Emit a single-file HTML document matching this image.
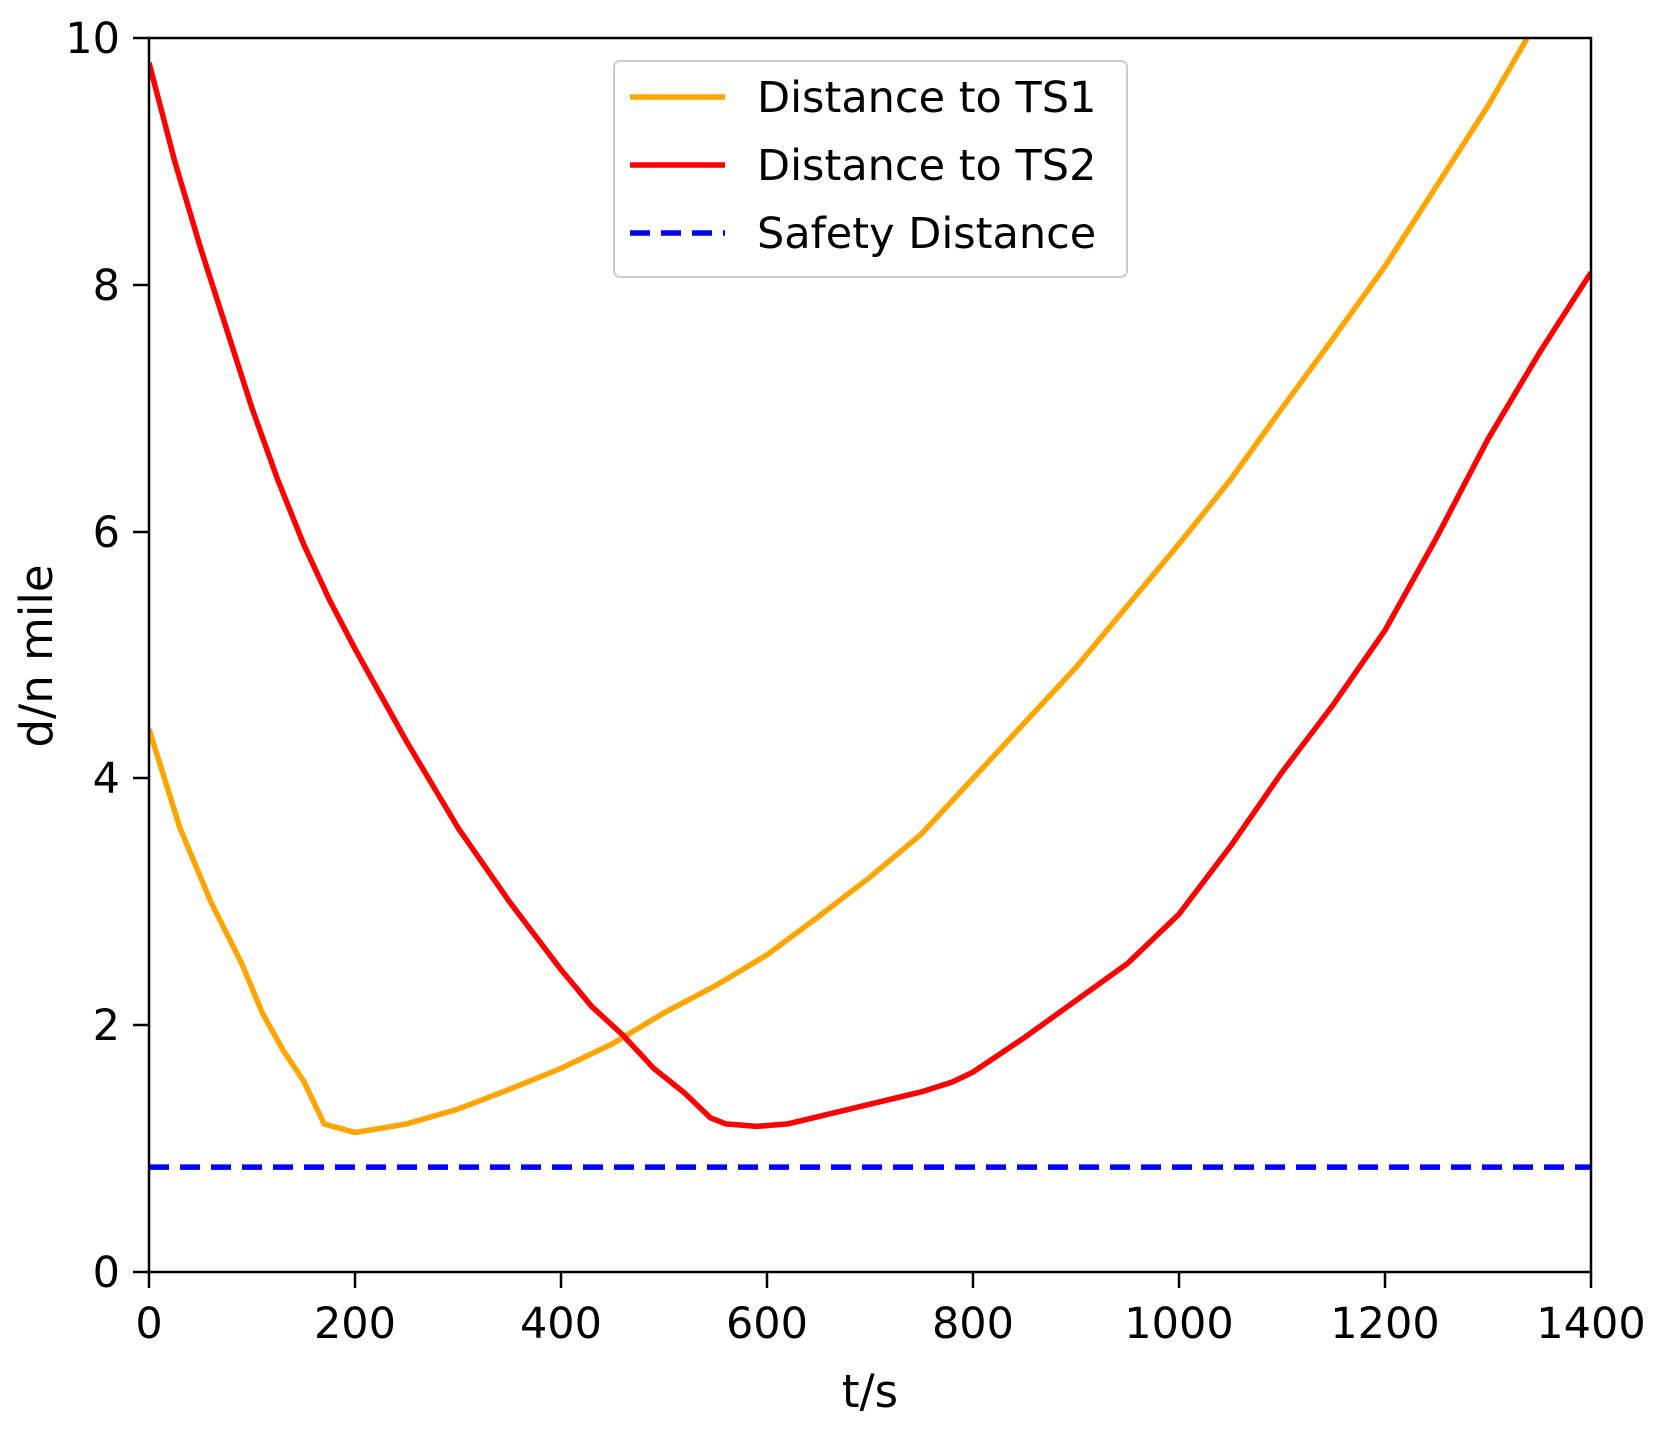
<!DOCTYPE html>
<html><head><meta charset="utf-8"><style>
body{margin:0;background:#fff}
svg text{font-family:"DejaVu Sans","Liberation Sans",sans-serif;fill:#000}
</style></head><body>
<svg width="1659" height="1432" viewBox="0 0 1659 1432" xmlns="http://www.w3.org/2000/svg">
<rect width="1659" height="1432" fill="#fff"/>
<defs><clipPath id="c"><rect x="149" y="38" width="1442" height="1234"/></clipPath></defs>
<g clip-path="url(#c)">
<g transform="translate(149,1272) scale(1.03,-123.4)" fill="none">
<line x1="0" y1="0.85" x2="1400" y2="0.85" stroke="#0000ff" stroke-width="5.5" vector-effect="non-scaling-stroke" stroke-dasharray="20 11"/>
<polyline stroke="#ffa500" stroke-width="5.5" vector-effect="non-scaling-stroke" stroke-linejoin="round" points="0,4.4 30,3.6 60,3.0 90,2.5 110,2.1 130,1.8 150,1.55 170,1.2 200,1.13 250,1.2 300,1.32 350,1.48 400,1.65 450,1.85 500,2.1 550,2.32 600,2.57 650,2.88 700,3.2 750,3.55 800,4.0 850,4.45 900,4.9 950,5.4 1000,5.9 1050,6.42 1100,7.0 1150,7.57 1200,8.15 1250,8.8 1300,9.45 1345,10.1"/>
<polyline stroke="#ff0000" stroke-width="5.5" vector-effect="non-scaling-stroke" stroke-linejoin="round" points="0,9.8 25,9.0 50,8.3 75,7.65 100,7.0 125,6.42 150,5.9 175,5.45 200,5.05 250,4.3 300,3.6 350,3.0 400,2.45 430,2.15 460,1.92 490,1.65 520,1.45 545,1.25 560,1.2 590,1.18 620,1.2 650,1.26 700,1.36 750,1.46 780,1.54 800,1.62 850,1.9 900,2.2 950,2.5 1000,2.9 1050,3.45 1100,4.05 1150,4.6 1200,5.2 1250,5.95 1300,6.75 1350,7.45 1400,8.1"/>
</g></g>
<rect x="149" y="38" width="1442" height="1234" fill="none" stroke="#000" stroke-width="2.5"/>
<g stroke="#000" stroke-width="2.5">
<line x1="149" y1="1272" x2="149" y2="1288"/><line x1="355" y1="1272" x2="355" y2="1288"/><line x1="561" y1="1272" x2="561" y2="1288"/><line x1="767" y1="1272" x2="767" y2="1288"/><line x1="973" y1="1272" x2="973" y2="1288"/><line x1="1179" y1="1272" x2="1179" y2="1288"/><line x1="1385" y1="1272" x2="1385" y2="1288"/><line x1="1591" y1="1272" x2="1591" y2="1288"/>
<line x1="133" y1="1272" x2="149" y2="1272"/><line x1="133" y1="1025" x2="149" y2="1025"/><line x1="133" y1="778" x2="149" y2="778"/><line x1="133" y1="532" x2="149" y2="532"/><line x1="133" y1="285" x2="149" y2="285"/><line x1="133" y1="38" x2="149" y2="38"/>
</g>
<g font-size="43" text-anchor="middle">
<text x="149" y="1338">0</text><text x="355" y="1338">200</text><text x="561" y="1338">400</text><text x="767" y="1338">600</text><text x="973" y="1338">800</text><text x="1179" y="1338">1000</text><text x="1385" y="1338">1200</text><text x="1591" y="1338">1400</text>
</g>
<g font-size="43" text-anchor="end">
<text x="120" y="1287">0</text><text x="120" y="1040">2</text><text x="120" y="793">4</text><text x="120" y="547">6</text><text x="120" y="300">8</text><text x="120" y="53">10</text>
</g>
<text x="870" y="1407" font-size="45" text-anchor="middle">t/s</text>
<text transform="translate(52,656) rotate(-90)" font-size="45" text-anchor="middle">d/n mile</text>
<rect x="614" y="61" width="513" height="216" rx="6" fill="#fff" fill-opacity="0.8" stroke="#ccc" stroke-width="2"/>
<line x1="630" y1="97" x2="725" y2="97" stroke="#ffa500" stroke-width="5.5"/>
<line x1="630" y1="165" x2="725" y2="165" stroke="#ff0000" stroke-width="5.5"/>
<line x1="630" y1="233" x2="725" y2="233" stroke="#0000ff" stroke-width="5.5" stroke-dasharray="20 11"/>
<g font-size="43"><text x="757" y="112">Distance to TS1</text><text x="757" y="180">Distance to TS2</text><text x="757" y="248">Safety Distance</text></g>
</svg>
</body></html>
